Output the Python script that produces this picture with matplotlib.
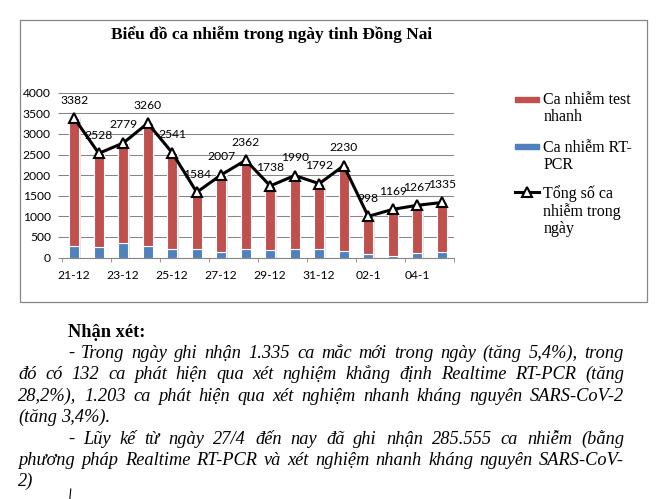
import numpy as np
import matplotlib
matplotlib.use('Agg')
import matplotlib.pyplot as plt
from matplotlib.lines import Line2D
from matplotlib.patches import Rectangle

days = ['21-12', '22-12', '23-12', '24-12', '25-12', '26-12', '27-12', '28-12',
        '29-12', '30-12', '31-12', '01-1', '02-1', '03-1', '04-1', '05-1']
total = [3382, 2528, 2779, 3260, 2541, 1584, 2007, 2362,
         1738, 1990, 1792, 2230, 998, 1169, 1267, 1335]
rt_pcr = [267, 243, 364, 267, 218, 218, 129, 218,
          170, 202, 218, 146, 81, 40, 103, 132]
test_nhanh = [t - r for t, r in zip(total, rt_pcr)]

title = 'Biểu đồ ca nhiễm trong ngày tinh Đồng Nai'
legend_items = [
    ('Ca nhiễm test', 'nhanh'),
    ('Ca nhiễm RT-', 'PCR'),
    ('Tổng số ca', 'nhiễm trong', 'ngày'),
]
note_head = 'Nhận xét:'
note_lines = [
    '- Trong ngày ghi nhận 1.335 ca mắc mới trong ngày (tăng 5,4%), trong',
    'đó có 132 ca phát hiện qua xét nghiệm khẳng định Realtime RT-PCR (tăng',
    '28,2%), 1.203 ca phát hiện qua xét nghiệm nhanh kháng nguyên SARS-CoV-2',
    '(tăng 3,4%).',
    '- Lũy kế từ ngày 27/4 đến nay đã ghi nhận 285.555 ca nhiễm (bằng',
    'phương pháp Realtime RT-PCR và xét nghiệm nhanh kháng nguyên SARS-CoV-',
    '2)',
]

RED = '#C0504D'
BLUE = '#4F81BD'
GRAY = '#868686'
W, H = 667, 499


def fx(px):
    return px / W


def fy(py):
    return 1 - py / H


fig = plt.figure(figsize=(W / 100, H / 100), dpi=100)
renderer = fig.canvas.get_renderer()

# frame round the chart
fig.add_artist(Rectangle((fx(19.5), fy(302)), fx(646.5) - fx(19.5), (302 - 20) / H,
                         transform=fig.transFigure, fill=False, edgecolor=GRAY, lw=0.9))

fig.text(fx(111), fy(39), title, family='Liberation Serif', weight='bold',
         fontsize=12.5, va='baseline', ha='left')

ax = fig.add_axes([fx(62), fy(257.5), fx(454) - fx(62), (257.5 - 92.7) / H])
x = np.arange(len(days))
# soft shadow on the right of each bar
ax.bar(x + 0.07, total, width=0.4, color='#e4e4e4', lw=0, zorder=1.5)
ax.bar(x, rt_pcr, width=0.4, color=BLUE, edgecolor='white', lw=0.8, zorder=2)
ax.bar(x, test_nhanh, width=0.4, bottom=rt_pcr, color=RED, edgecolor='white', lw=0.8, zorder=2)
ax.plot(x, total, color='black', lw=2.2, marker='^', ms=7, mfc='white', mec='black',
        mew=1.5, zorder=4)
for xi, t in zip(x, total):
    ax.annotate(str(t), (xi, t), xytext=(0, 13), textcoords='offset points',
                ha='center', va='center', family='Lato', fontsize=8.7, zorder=3)

ax.set_xlim(-0.5, len(days) - 0.5)
ax.set_ylim(0, 4000)
ax.set_yticks(range(0, 4001, 500))
ax.grid(axis='y', color=GRAY, lw=0.75)
ax.set_axisbelow(True)
for side in ['top', 'right', 'left']:
    ax.spines[side].set_visible(False)
ax.spines['bottom'].set_color(GRAY)
ax.set_xticks(x[::2], days[::2])
ax.set_xticks(np.arange(-0.5, len(days), 2), minor=True)
ax.tick_params(axis='x', which='major', length=0, pad=9)
ax.tick_params(axis='x', which='minor', length=3, color=GRAY)
ax.tick_params(axis='y', length=3, color=GRAY, pad=5)
for lab in ax.get_xticklabels() + ax.get_yticklabels():
    lab.set_family('Lato')
    lab.set_fontsize(8.7)

# legend, drawn by hand so the key sits on the first line
fig.add_artist(Rectangle((fx(515), fy(101.5)), fx(539) - fx(515), 5 / H,
                         transform=fig.transFigure, color=RED))
fig.add_artist(Rectangle((fx(515), fy(149.2)), fx(539) - fx(515), 5 / H,
                         transform=fig.transFigure, color=BLUE))
fig.add_artist(Line2D([fx(515), fx(539)], [fy(192.3), fy(192.3)], transform=fig.transFigure,
                      color='black', lw=2.2))
fig.add_artist(Line2D([fx(527)], [fy(192.3)], transform=fig.transFigure, marker='^', ms=7,
                      mfc='white', mec='black', mew=1.5))
legend_base = [104, 151.7, 198.3]
for lines, y0 in zip(legend_items, legend_base):
    for i, line in enumerate(lines):
        fig.text(fx(543.3), fy(y0 + i * 17.3), line, family='Liberation Serif',
                 fontsize=11.5, va='baseline')

# comment text under the chart, justified like the document
fig.text(fx(68), fy(337), note_head, family='Liberation Serif', weight='bold',
         fontsize=13.2, va='baseline')
starts = [68, 18.3, 18.3, 18.3, 68, 18.3, 18.3]
justified = [True, True, True, False, True, True, False]
for i, (line, x0, just) in enumerate(zip(note_lines, starts, justified)):
    y = fy(358 + i * 21.4)
    words = line.split(' ')
    texts = [fig.text(0, y, w, family='Liberation Serif', style='italic', fontsize=13.2,
                      va='baseline') for w in words]
    widths = [t.get_window_extent(renderer).width for t in texts]
    if just and len(words) > 1:
        gap = (624 - x0 - sum(widths)) / (len(words) - 1)
    else:
        gap = 3.5
    pos = x0
    for t, w in zip(texts, widths):
        t.set_x(fx(pos))
        pos += w + gap

fig.add_artist(Line2D([fx(70.8), fx(69.8)], [fy(489), fy(499)], transform=fig.transFigure,
                      color='black', lw=0.8))

fig.savefig('out.png', dpi=100)
